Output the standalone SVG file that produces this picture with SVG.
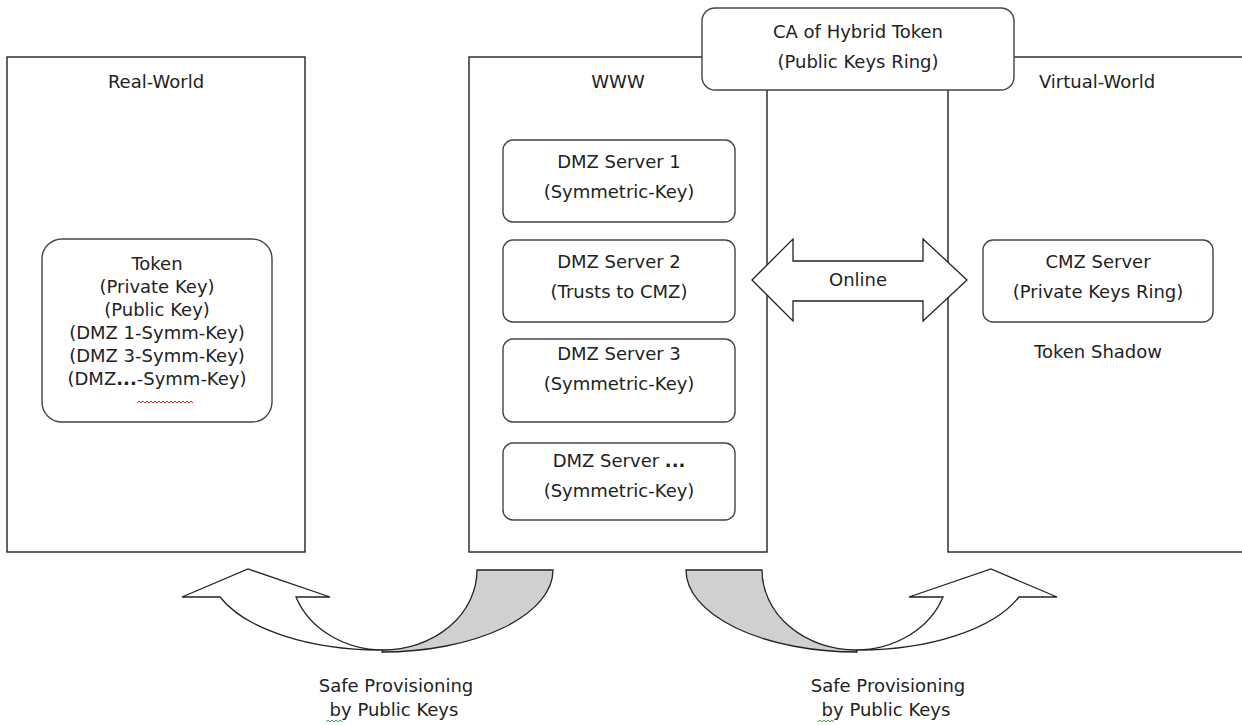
<svg xmlns="http://www.w3.org/2000/svg" width="1242" height="725" viewBox="0 0 1242 725">
  <style>
    text { font-family: "DejaVu Sans", "Liberation Sans", sans-serif; font-size: 18px; fill: #222; text-anchor: middle; }
    .zone { fill: #fff; stroke: #222; stroke-width: 1.4; }
    .box { fill: #fff; stroke: #444; stroke-width: 1.4; }
    .arrow { fill: #fff; stroke: #222; stroke-width: 1.3; stroke-linejoin: miter; }
    .tail { fill: #d0d0d0; stroke: #222; stroke-width: 1.3; }
    .squig-red { fill: none; stroke: #d03030; stroke-width: 1; }
    .squig-green { fill: none; stroke: #40a040; stroke-width: 1; }
  </style>
  <defs>
    <!-- curved "up" arrow: white band ending in a head, grey tail band -->
    <g id="curved-up-arrow">
      <path class="arrow" d="M 220,597 L 182,597 L 248,569 L 330,597 L 296,597 A 93 80 0 0 0 383,650 A 171 82 0 0 1 220,597 Z"/>
      <path class="tail" d="M 477,570 L 553,570 A 171 82 0 0 1 382,652 L 383,650 A 94 80 0 0 0 477,570 Z"/>
    </g>
  </defs>

  <rect width="1242" height="725" fill="#fff"/>

  <!-- zones -->
  <g id="real-world">
    <rect class="zone" x="7" y="57" width="298" height="495"/>
    <text x="156" y="88">Real-World</text>
  </g>
  <g id="www">
    <rect class="zone" x="469" y="57" width="298" height="495"/>
    <text x="618" y="88">WWW</text>
  </g>
  <g id="virtual-world">
    <rect class="zone" x="948" y="57" width="310" height="495"/>
    <text x="1097" y="88">Virtual-World</text>
  </g>

  <g id="ca">
    <rect class="box" x="702" y="8" width="312" height="82" rx="13"/>
    <text x="858" y="38">CA of Hybrid Token</text>
    <text x="858" y="68">(Public Keys Ring)</text>
  </g>

  <g id="token">
    <rect class="box" x="42" y="239" width="230" height="183" rx="20"/>
    <text x="157" y="270">Token</text>
    <text x="157" y="293">(Private Key)</text>
    <text x="157" y="316">(Public Key)</text>
    <text x="157" y="339">(DMZ 1-Symm-Key)</text>
    <text x="157" y="362">(DMZ 3-Symm-Key)</text>
    <text x="157" y="385">(DMZ<tspan font-weight="bold">...</tspan>-Symm-Key)</text>
    <path class="squig-red" d="M 137,403 l 2,-2 l 2,2 l 2,-2 l 2,2 l 2,-2 l 2,2 l 2,-2 l 2,2 l 2,-2 l 2,2 l 2,-2 l 2,2 l 2,-2 l 2,2 l 2,-2 l 2,2 l 2,-2 l 2,2 l 2,-2 l 2,2 l 2,-2 l 2,2 l 2,-2 l 2,2 l 2,-2 l 2,2 l 2,-2 l 2,2"/>
  </g>

  <g id="dmz1">
    <rect class="box" x="503" y="140" width="232" height="82" rx="10"/>
    <text x="619" y="168">DMZ Server 1</text>
    <text x="619" y="198">(Symmetric-Key)</text>
  </g>
  <g id="dmz2">
    <rect class="box" x="503" y="240" width="232" height="82" rx="10"/>
    <text x="619" y="268">DMZ Server 2</text>
    <text x="619" y="298">(Trusts to CMZ)</text>
  </g>
  <g id="dmz3">
    <rect class="box" x="503" y="339" width="232" height="83" rx="10"/>
    <text x="619" y="360">DMZ Server 3</text>
    <text x="619" y="390">(Symmetric-Key)</text>
  </g>
  <g id="dmz-more">
    <rect class="box" x="503" y="443" width="232" height="77" rx="10"/>
    <text x="619" y="467">DMZ Server <tspan font-weight="bold">...</tspan></text>
    <text x="619" y="497">(Symmetric-Key)</text>
  </g>

  <g id="cmz">
    <rect class="box" x="983" y="240" width="230" height="82" rx="10"/>
    <text x="1098" y="268">CMZ Server</text>
    <text x="1098" y="298">(Private Keys Ring)</text>
  </g>
  <g id="token-shadow">
    <text x="1098" y="358">Token Shadow</text>
  </g>

  <!-- connectors -->
  <g id="connectors">
    <path class="arrow" d="M 752,280 L 793,239 L 793,261 L 923,261 L 923,239 L 967,280 L 923,321 L 923,301 L 793,301 L 793,321 Z"/>
    <text x="858" y="286">Online</text>

    <use href="#curved-up-arrow"/>
    <use href="#curved-up-arrow" transform="matrix(-1 0 0 1 1239 0)"/>
  </g>

  <g id="provisioning-left">
    <text x="396" y="692">Safe Provisioning</text>
    <text x="394" y="716">by Public Keys</text>
    <path class="squig-green" d="M 326,722 l 2,-2 l 2,2 l 2,-2 l 2,2 l 2,-2 l 2,2 l 2,-2 l 2,2"/>
  </g>
  <g id="provisioning-right">
    <text x="888" y="692">Safe Provisioning</text>
    <text x="886" y="716">by Public Keys</text>
    <path class="squig-green" d="M 818,722 l 2,-2 l 2,2 l 2,-2 l 2,2 l 2,-2 l 2,2 l 2,-2 l 2,2"/>
  </g>
</svg>
